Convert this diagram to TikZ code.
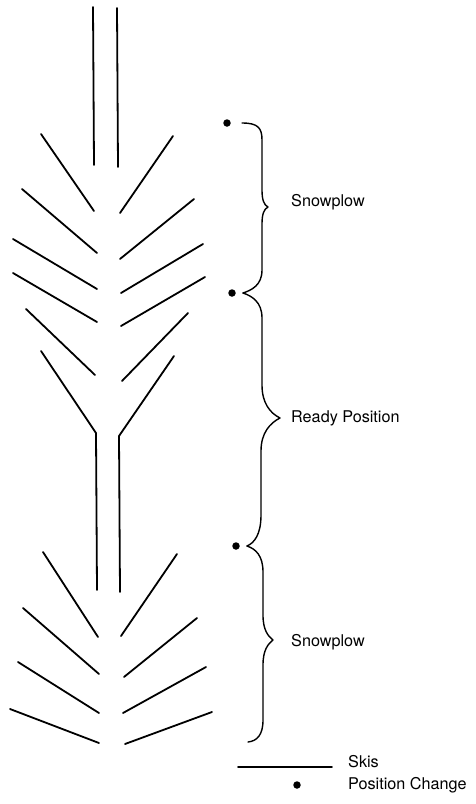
\documentclass[tikz,border=0pt]{standalone}
\usepackage{fontspec}
\setmainfont{TeX Gyre Heros}
\begin{document}
\begin{tikzpicture}[x=1pt,y=-1pt,
  ski/.style={line width=1.8pt, line cap=round},
  brc/.style={line width=1.4pt, line cap=round, line join=round},
  pdot/.style={circle, fill=black, inner sep=0pt, minimum size=7.5pt},
  lbl/.style={anchor=west, inner sep=0pt, font=\fontsize{16.2}{19}\selectfont}]
\useasboundingbox (0,0) rectangle (475,804);
% --- top parallel skis
\draw[ski] (93,7) -- (94,165);
\draw[ski] (117,8) -- (118,167);
% --- first snowplow
\draw[ski] (41,134) -- (94,211);
\draw[ski] (173,136) -- (120,213);
\draw[ski] (22,189) -- (97,253);
\draw[ski] (194,199) -- (120,259);
\draw[ski] (13,239) -- (97,289);
\draw[ski] (203,244) -- (121,293);
\draw[ski] (13,273) -- (97,322);
\draw[ski] (205,277) -- (121,326);
\draw[ski] (26,309) -- (95,375);
\draw[ski] (188,313) -- (122,381);
% --- ready position (Y shape)
\draw[ski, line join=round] (41,351) -- (96,433) -- (97,590);
\draw[ski, line join=round] (174,356) -- (119,436) -- (120,592);
% --- second snowplow
\draw[ski] (43,552) -- (98,637);
\draw[ski] (177,554) -- (121,636);
\draw[ski] (23,608) -- (99,674);
\draw[ski] (197,618) -- (124,677);
\draw[ski] (18,662) -- (99,713);
\draw[ski] (206,667) -- (123,713);
\draw[ski] (10,709) -- (99,743);
\draw[ski] (212,712) -- (125,744);
% --- position change dots
\node[pdot] (d1) at (227,123) {};
\node[pdot] (d2) at (232,293) {};
\node[pdot] (d3) at (236,546) {};
% --- braces
\draw[brc] (242,123) .. controls (258,123) and (262,128) .. (262,140)
  -- (262,190) .. controls (262,200) and (264,205) .. (268,207)
  .. controls (264,209) and (262,214) .. (262,224)
  -- (262,270) .. controls (262,285) and (252,290) .. (243,293);
\draw[brc] (243,293) .. controls (252,296) and (262,302) .. (262,318)
  -- (262,385) .. controls (262,403) and (270,413) .. (280,418)
  .. controls (270,423) and (261,433) .. (261,451)
  -- (261,515) .. controls (261,535) and (254,543) .. (247,546);
\draw[brc] (247,546) .. controls (256,549) and (263,556) .. (263,572)
  -- (263,615) .. controls (263,630) and (268,636) .. (273,640)
  .. controls (268,644) and (263,650) .. (263,665)
  -- (263,720) .. controls (263,735) and (257,741) .. (248,742);
% --- labels
\node[lbl] (t1) at (291,202) {Snowplow};
\node[lbl] (t2) at (291,418) {Ready Position};
\node[lbl] (t3) at (291,642) {Snowplow};
% --- legend
\coordinate (la) at (238,767);
\coordinate (lb) at (332,767);
\draw[ski] (la) -- (lb);
\node[lbl] (t4) at (348,762) {Skis};
\node[pdot] (d4) at (297,785) {};
\node[lbl] (t5) at (348,785) {Position Change};
\end{tikzpicture}
\end{document}
